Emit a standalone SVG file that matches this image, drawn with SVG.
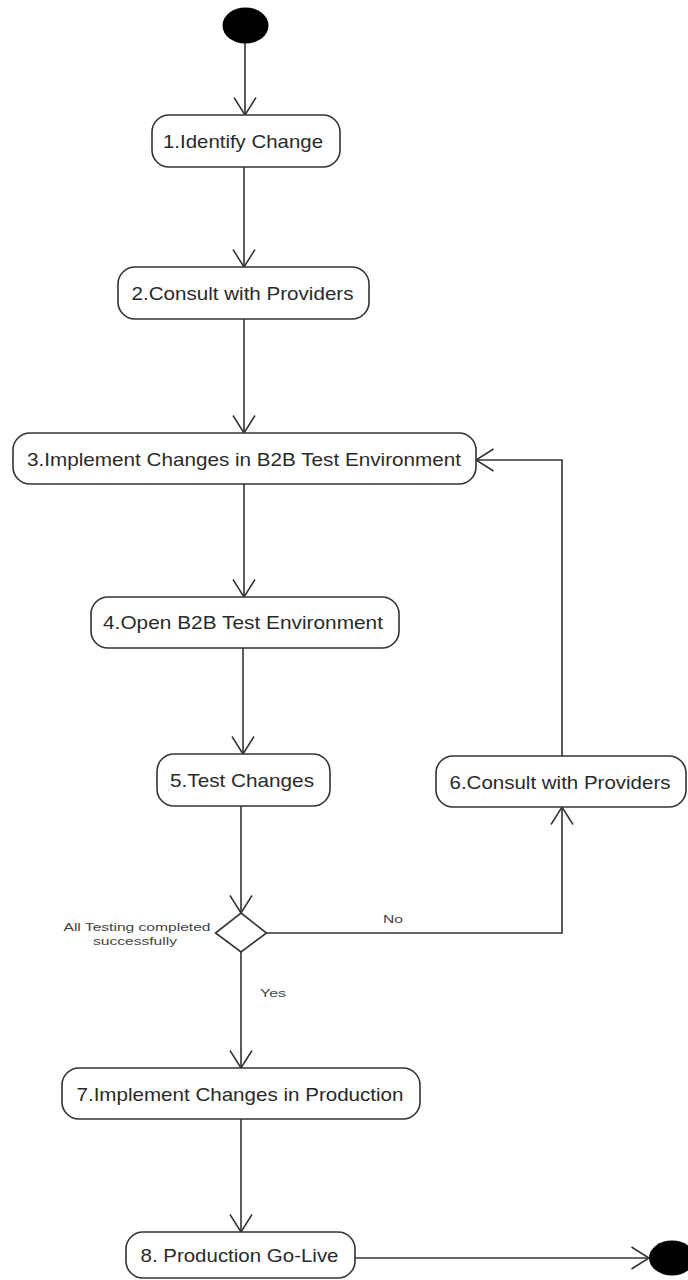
<svg xmlns="http://www.w3.org/2000/svg" width="688" height="1280" viewBox="0 0 688 1280">
<style>
.node rect{fill:#fff;stroke:#333;stroke-width:1.6}
.node text{font-family:"Liberation Sans",Arial,sans-serif;font-size:19px;fill:#2a2a2a;text-anchor:middle}
.lbl{font-family:"Liberation Sans",Arial,sans-serif;font-size:11.5px;fill:#444;text-anchor:middle}
.conn path{fill:none;stroke:#333;stroke-width:1.6}
.term{fill:#000}
</style>
<defs>
<marker id="arr" viewBox="0 0 20 24" refX="18.5" refY="12" markerWidth="20" markerHeight="24" orient="auto" markerUnits="userSpaceOnUse">
<path d="M1,1 L18.5,12 L1,23" fill="none" stroke="#333" stroke-width="1.5"/>
</marker>
</defs>
<rect width="688" height="1280" fill="#fff"/>
<g id="connectors" class="conn">
<path d="M245,43 L245,115" marker-end="url(#arr)"/>
<path d="M244,167 L244,267" marker-end="url(#arr)"/>
<path d="M244,319 L244,433" marker-end="url(#arr)"/>
<path d="M244,484 L244,597" marker-end="url(#arr)"/>
<path d="M243,648 L243,754" marker-end="url(#arr)"/>
<path d="M241,806 L241,913" marker-end="url(#arr)"/>
<path d="M241,952 L241,1068" marker-end="url(#arr)"/>
<path d="M241,1119 L241,1232" marker-end="url(#arr)"/>
<path d="M355,1258 L649,1258" marker-end="url(#arr)"/>
<path d="M266.5,933 L562,933 L562,807" marker-end="url(#arr)"/>
<path d="M562,756 L562,460 L476,460" marker-end="url(#arr)"/>
<text class="lbl" x="393" y="923" textLength="20" lengthAdjust="spacingAndGlyphs">No</text>
<text class="lbl" x="273" y="997" textLength="26" lengthAdjust="spacingAndGlyphs">Yes</text>
</g>
<g id="start"><ellipse class="term" cx="245.5" cy="25.5" rx="23" ry="18"/></g>
<g id="n1" class="node"><rect x="152" y="115" width="188" height="52" rx="17"/><text x="243" y="148" textLength="160" lengthAdjust="spacingAndGlyphs">1.Identify Change</text></g>
<g id="n2" class="node"><rect x="118" y="267" width="251" height="52" rx="17"/><text x="242.5" y="300" textLength="222" lengthAdjust="spacingAndGlyphs">2.Consult with Providers</text></g>
<g id="n3" class="node"><rect x="13" y="433" width="463" height="51" rx="17"/><text x="244" y="465.5" textLength="434" lengthAdjust="spacingAndGlyphs">3.Implement Changes in B2B Test Environment</text></g>
<g id="n4" class="node"><rect x="91" y="597" width="308" height="51" rx="17"/><text x="243" y="629" textLength="280" lengthAdjust="spacingAndGlyphs">4.Open B2B Test Environment</text></g>
<g id="n5" class="node"><rect x="157" y="754" width="173" height="52" rx="17"/><text x="242" y="787" textLength="144" lengthAdjust="spacingAndGlyphs">5.Test Changes</text></g>
<g id="n6" class="node"><rect x="436" y="756" width="250" height="51" rx="17"/><text x="560" y="788.5" textLength="221" lengthAdjust="spacingAndGlyphs">6.Consult with Providers</text></g>
<g id="decision"><path d="M241,913 L266.5,933 L241,952 L215.5,933 Z" fill="#fff" stroke="#333" stroke-width="1.6"/>
<text class="lbl" x="137" y="930.5" textLength="147" lengthAdjust="spacingAndGlyphs">All Testing completed</text>
<text class="lbl" x="135" y="945" textLength="84" lengthAdjust="spacingAndGlyphs">successfully</text></g>
<g id="n7" class="node"><rect x="62" y="1068" width="358" height="51" rx="17"/><text x="240" y="1100.5" textLength="327" lengthAdjust="spacingAndGlyphs">7.Implement Changes in Production</text></g>
<g id="n8" class="node"><rect x="126" y="1232" width="229" height="46" rx="17"/><text x="239.5" y="1262" textLength="198" lengthAdjust="spacingAndGlyphs">8. Production Go-Live</text></g>
<g id="end"><ellipse class="term" cx="672" cy="1258" rx="23" ry="17.5"/></g>
</svg>
